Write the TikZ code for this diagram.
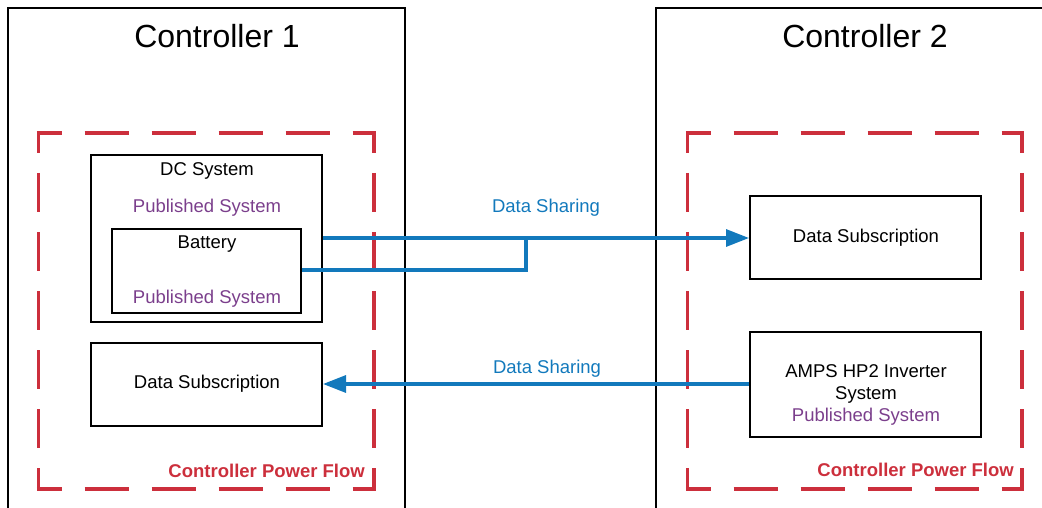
\documentclass[tikz,border=0pt]{standalone}
\usepackage{fontspec}
\setmainfont{Liberation Sans}
\usetikzlibrary{arrows.meta}
\definecolor{flowblue}{HTML}{1279BC}
\definecolor{pfred}{HTML}{CC2F3C}
\definecolor{pubpurple}{HTML}{7B3F8C}
\tikzset{
  ctrl/.style={draw=black, line width=2pt},
  zoneh/.style={draw=pfred, line width=3.2pt, dash pattern=on 44pt off 23pt, dash phase=19.4pt},
  zonev/.style={draw=pfred, line width=3.2pt, dash pattern=on 39pt off 20pt, dash phase=17.4pt},
  box/.style={draw=black, line width=2pt, rectangle, inner sep=0pt},
  lbl/.style={font=\fontsize{18.5}{22}\selectfont, inner sep=0pt},
  pub/.style={lbl, text=pubpurple},
  share/.style={lbl, text=flowblue},
  zonelbl/.style={font=\fontsize{18.5}{22}\selectfont\bfseries, text=pfred, inner sep=0pt},
  title/.style={font=\fontsize{32}{38}\selectfont, inner sep=0pt},
  flow/.style={draw=flowblue, line width=3.2pt},
  flowarrow/.style={flow, -{Triangle[length=23pt,width=17pt]}},
}
\begin{document}
\begin{tikzpicture}[x=1pt,y=-1pt]
\useasboundingbox (0,0) rectangle (1042,508);
\clip (0,0) rectangle (1042,508);
% controllers
\draw[ctrl] (8,8) rectangle (405,540);
\draw[ctrl] (656,8) rectangle (1070,540);
\node[title] (c1) at (217,36) {Controller 1};
\node[title] (c2) at (865,36) {Controller 2};
% power-flow zone 1
\draw[zoneh] (36.9,133) -- (375.6,133);
\draw[zoneh] (36.9,489) -- (375.6,489);
\draw[zonev] (38.5,131.4) -- (38.5,490.6);
\draw[zonev] (374,131.4) -- (374,490.6);
% power-flow zone 2
\draw[zoneh] (685.9,133) -- (1023.6,133);
\draw[zoneh] (685.9,489) -- (1023.6,489);
\draw[zonev] (687.5,131.4) -- (687.5,490.6);
\draw[zonev] (1022,131.4) -- (1022,490.6);
\node[zonelbl, anchor=east] (z1) at (365,471) {Controller Power Flow};
\node[zonelbl, anchor=east] (z2) at (1014,470) {Controller Power Flow};
% left boxes
\node[box, minimum width=231pt, minimum height=167pt] (dc) at (206.5,238.5) {};
\node[lbl] (dct) at (207,170.5) {DC System};
\node[pub] (dcp) at (207,207.5) {Published System};
\node[box, minimum width=189pt, minimum height=84pt] (bat) at (206.5,271) {};
\node[lbl] (batt) at (207,244.5) {Battery};
\node[pub] (batp) at (207,298.5) {Published System};
\node[box, minimum width=231pt, minimum height=83pt] (dsl) at (206.5,384.5) {};
\node[lbl] (dslt) at (207,384) {Data Subscription};
% right boxes
\node[box, minimum width=231pt, minimum height=83pt] (dsr) at (865.5,237.5) {};
\node[lbl] (dsrt) at (866,237.5) {Data Subscription};
\node[box, minimum width=231pt, minimum height=105pt] (amps) at (865.5,384.5) {};
\node[lbl] (ampst1) at (866,371.5) {AMPS HP2 Inverter};
\node[lbl] (ampst2) at (866,394.5) {System};
\node[pub] (ampsp) at (866,416.5) {Published System};
% connectors
\coordinate (j) at (526,238);
\draw[flow] (bat.east |- 0,270) -| (j);
\draw[flowarrow] (dc.east |- 0,238) -- (dsr.west |- 0,238);
\draw[flowarrow] (amps.west |- 0,384) -- (dsl.east |- 0,384);
\node[share] (sh1) at (546,207.5) {Data Sharing};
\node[share] (sh2) at (547,368.5) {Data Sharing};
\end{tikzpicture}
\end{document}
